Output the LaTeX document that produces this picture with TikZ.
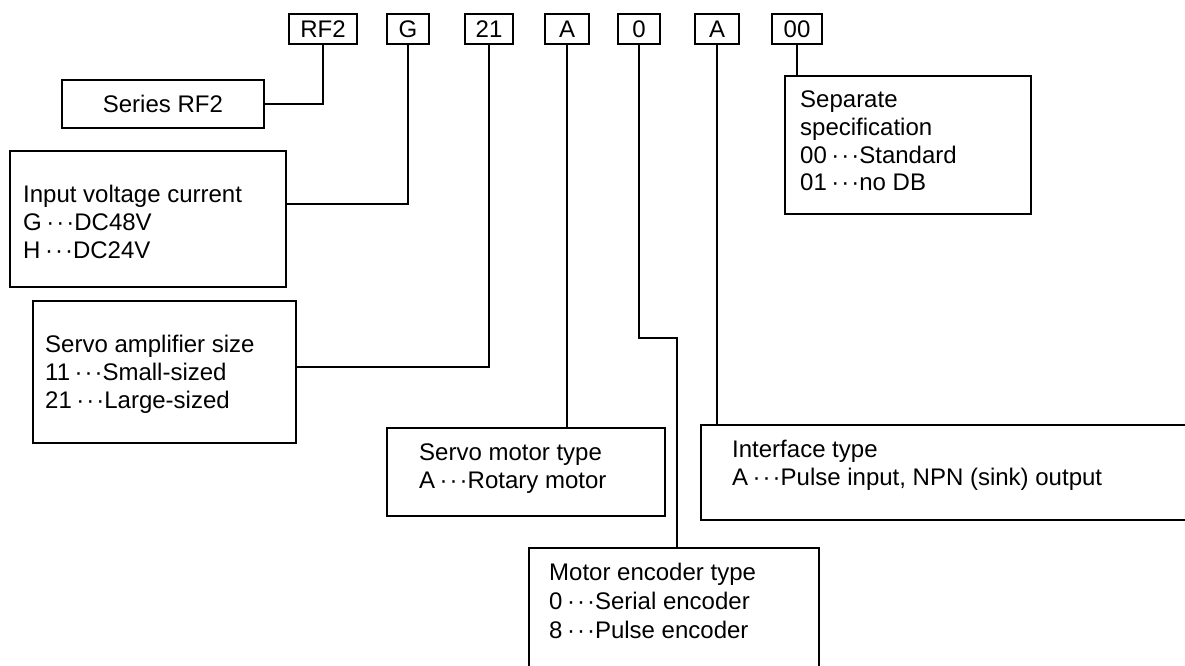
\documentclass[tikz,border=0pt]{standalone}
\usepackage{fontspec}
\setmainfont{Liberation Sans}
% three spaced middle dots between a code and its meaning
\newcommand\tridot{\kern4.5pt\textperiodcentered\kern2pt\textperiodcentered\kern2pt\textperiodcentered}
\begin{document}
\begin{tikzpicture}[x=1pt,y=-1pt,
  box/.style={draw,line width=1.8pt,inner sep=0pt},
  codebox/.style={box,minimum height=30pt,font=\fontsize{24}{28}\selectfont},
  txt/.style={anchor=base west,inner sep=0pt,font=\fontsize{24}{28}\selectfont},
  wire/.style={line width=1.8pt}]
\useasboundingbox (0,0) rectangle (1185,666);
\fill[white] (0,0) rectangle (1185,666);
\clip (0,0) rectangle (1185,666);

% model code fields
\node[codebox,minimum width=68pt] (rf2) at (323,29) {RF2};
\node[codebox,minimum width=42pt] (cg)  at (408,29) {G};
\node[codebox,minimum width=48pt] (c21) at (489,29) {21};
\node[codebox,minimum width=44pt] (ca1) at (567,29) {A};
\node[codebox,minimum width=42pt] (c0)  at (639,29) {0};
\node[codebox,minimum width=44pt] (ca2) at (717,29) {A};
\node[codebox,minimum width=50pt] (c00) at (797,29) {00};

% explanation boxes
\node[box,anchor=north west,minimum width=202pt,minimum height=48pt,
      font=\fontsize{24}{28}\selectfont] (ser) at (61,79) {Series RF2};

\node[box,anchor=north west,minimum width=276pt,minimum height=136pt] (inp) at (9,150) {};
\node[txt] (inp1) at (23,202) {Input voltage current};
\node[txt] (inp2) at (23,230) {G\tridot DC48V};
\node[txt] (inp3) at (23,258) {H\tridot DC24V};

\node[box,anchor=north west,minimum width=263pt,minimum height=142pt] (amp) at (32,300) {};
\node[txt] (amp1) at (45,352) {Servo amplifier size};
\node[txt] (amp2) at (45,380) {11\tridot Small-sized};
\node[txt] (amp3) at (45,408) {21\tridot Large-sized};

\node[box,anchor=north west,minimum width=278pt,minimum height=88pt] (mot) at (386,427) {};
\node[txt] (mot1) at (419,460) {Servo motor type};
\node[txt] (mot2) at (419,488) {A\tridot Rotary motor};

\node[box,anchor=north west,minimum width=520pt,minimum height=95pt] (ifc) at (700,424) {};
\node[txt] (ifc1) at (732,457) {Interface type};
\node[txt] (ifc2) at (732,485) {A\tridot Pulse input, NPN (sink) output};

\node[box,anchor=north west,minimum width=290pt,minimum height=150pt] (enc) at (528,547) {};
\node[txt] (enc1) at (549,580) {Motor encoder type};
\node[txt] (enc2) at (549,609) {0\tridot Serial encoder};
\node[txt] (enc3) at (549,638) {8\tridot Pulse encoder};

\node[box,anchor=north west,minimum width=246pt,minimum height=138pt] (sep) at (784,75) {};
\node[txt] (sep1) at (800,108) {Separate};
\node[txt] (sep2) at (800,135.5) {specification};
\node[txt] (sep3) at (800,163) {00\tridot Standard};
\node[txt] (sep4) at (800,190.5) {01\tridot no DB};

% leader lines
\coordinate (zb) at (677,338);
\draw[wire] (rf2.south) |- (ser.east);
\draw[wire] (cg.south) |- ([yshift=15pt]inp.east);
\draw[wire] (c21.south) |- ([yshift=5pt]amp.east);
\draw[wire] (ca1.south) -- (mot.north -| ca1.south);
\draw[wire] (c0.south) |- (zb) -- (enc.north -| zb);
\draw[wire] (ca2.south) -- (ifc.north -| ca2.south);
\draw[wire] (c00.south) -- (sep.north -| c00.south);
\end{tikzpicture}
\end{document}
